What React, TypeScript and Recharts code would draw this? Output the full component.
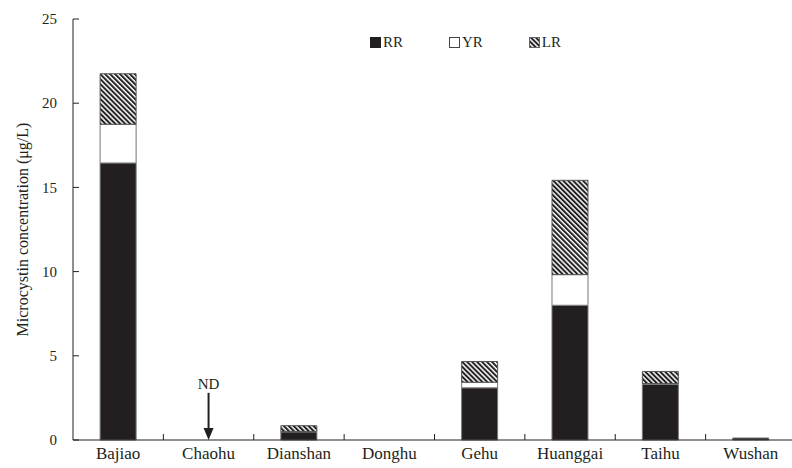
import React from 'react'
import {
  BarChart,
  Bar,
  XAxis,
  YAxis,
  Legend,
  ReferenceLine,
  ReferenceDot
} from 'recharts'

const categories = ['Bajiao', 'Chaohu', 'Dianshan', 'Donghu', 'Gehu', 'Huanggai', 'Taihu', 'Wushan']
const rrValues = [16.45, 0, 0.48, 0, 3.1, 8.0, 3.3, 0.12]
const yrValues = [2.3, 0, 0.03, 0, 0.33, 1.82, 0.05, 0]
const lrValues = [3.0, 0, 0.34, 0, 1.23, 5.6, 0.72, 0]
const yTicks = [0, 5, 10, 15, 20, 25]

const data = categories.map((name, i) => ({
  name,
  RR: rrValues[i],
  YR: yrValues[i],
  LR: lrValues[i]
}))

const FONT = 'Liberation Serif, DejaVu Serif, serif'
const INK = '#231f20'
const TICK_SIZE = 6
const TICK_MARGIN = 10

const HatchSwatch = () => (
  <svg width={11} height={11} style={{ display: 'block' }}>
    <defs>
      <pattern id="hatchLegend" width={3.5} height={3.5} patternUnits="userSpaceOnUse" patternTransform="rotate(-45)">
        <rect width={3.5} height={3.5} fill="#fff" />
        <rect width={2} height={3.5} fill={INK} />
      </pattern>
    </defs>
    <rect x={0.5} y={0.5} width={10} height={10} fill="url(#hatchLegend)" stroke="#666" />
  </svg>
)

const LegendContent = () => {
  const item = (swatch: React.ReactNode, text: string) => (
    <div style={{ display: 'flex', alignItems: 'center', marginRight: 46 }}>
      {swatch}
      <span style={{ marginLeft: 2, fontFamily: FONT, fontSize: 15, color: INK }}>{text}</span>
    </div>
  )
  return (
    <div style={{ display: 'flex', alignItems: 'center' }}>
      {item(<div style={{ width: 11, height: 11, background: INK }} />, 'RR')}
      {item(<div style={{ width: 9, height: 9, border: '1px solid #444', background: '#fff' }} />, 'YR')}
      {item(<HatchSwatch />, 'LR')}
    </div>
  )
}

// y tick: label on the left, short tick pointing into the plot
const YTick = (props: any) => {
  const { x, y, payload } = props
  const axisX = x + TICK_SIZE + TICK_MARGIN
  return (
    <g>
      <line x1={axisX} x2={axisX + TICK_SIZE} y1={y} y2={y} stroke={INK} />
      <text x={x} y={y} dy="0.35em" textAnchor="end" fontFamily={FONT} fontSize={15} fill={INK}>
        {payload.value}
      </text>
    </g>
  )
}

// x tick: category name, plus an upward tick at the right edge of the band
const XTick = (props: any) => {
  const { x, y, payload, index } = props
  const half = payload.offset || 0
  const axisY = y - 4
  return (
    <g>
      {index < categories.length - 1 && (
        <line x1={x + half} x2={x + half} y1={axisY} y2={axisY - TICK_SIZE} stroke={INK} />
      )}
      <text x={x} y={y} dy="0.9em" textAnchor="middle" fontFamily={FONT} fontSize={17} fill={INK}>
        {payload.value}
      </text>
    </g>
  )
}

const ArrowHead = (props: any) => {
  const { cx, cy } = props
  return <polygon points={`${cx - 5},${cy - 12} ${cx + 5},${cy - 12} ${cx},${cy}`} fill={INK} />
}

export default function App() {
  return (
    <div style={{ position: 'absolute', left: 0, top: 0, width: 792, height: 468, overflow: 'hidden', background: '#fff' }}>
      <BarChart
        width={800}
        height={468}
        data={data}
        margin={{ top: 19, right: 4, left: 0, bottom: 0 }}
        barCategoryGap="30%"
      >
        <defs>
          <pattern id="hatch" width={3.5} height={3.5} patternUnits="userSpaceOnUse" patternTransform="rotate(-45)">
            <rect width={3.5} height={3.5} fill="#fff" />
            <rect width={2} height={3.5} fill={INK} />
          </pattern>
        </defs>
        <XAxis
          dataKey="name"
          height={28}
          tickLine={false}
          tickSize={0}
          tickMargin={4}
          axisLine={{ stroke: INK }}
          tick={<XTick />}
          interval={0}
        />
        <YAxis
          width={73}
          domain={[0, 25]}
          ticks={yTicks}
          tickLine={false}
          tickSize={TICK_SIZE}
          tickMargin={TICK_MARGIN}
          axisLine={{ stroke: INK }}
          tick={<YTick />}
          label={{
            value: 'Microcystin concentration (μg/L)',
            angle: -90,
            position: 'center',
            dx: -14,
            style: { fontFamily: FONT, fontSize: 16, fill: INK }
          }}
        />
        <Legend
          layout="horizontal"
          verticalAlign="middle"
          align="center"
          wrapperStyle={{ top: 34, left: 370, width: 'auto', height: 'auto' }}
          content={<LegendContent />}
        />
        <Bar dataKey="RR" stackId="mc" fill={INK} stroke="#777" strokeWidth={1} isAnimationActive={false} />
        <Bar dataKey="YR" stackId="mc" fill="#fff" stroke="#777" strokeWidth={1} isAnimationActive={false} />
        <Bar dataKey="LR" stackId="mc" fill="url(#hatch)" stroke="#555" strokeWidth={1} isAnimationActive={false} />
        <ReferenceLine
          segment={[{ x: 'Chaohu', y: 2.8 }, { x: 'Chaohu', y: 0.6 }]}
          stroke={INK}
          strokeWidth={2}
          label={{ value: 'ND', position: 'top', offset: 4, style: { fontFamily: FONT, fontSize: 15, fill: INK } }}
        />
        <ReferenceDot x="Chaohu" y={0} r={0} shape={<ArrowHead />} />
      </BarChart>
    </div>
  )
}
